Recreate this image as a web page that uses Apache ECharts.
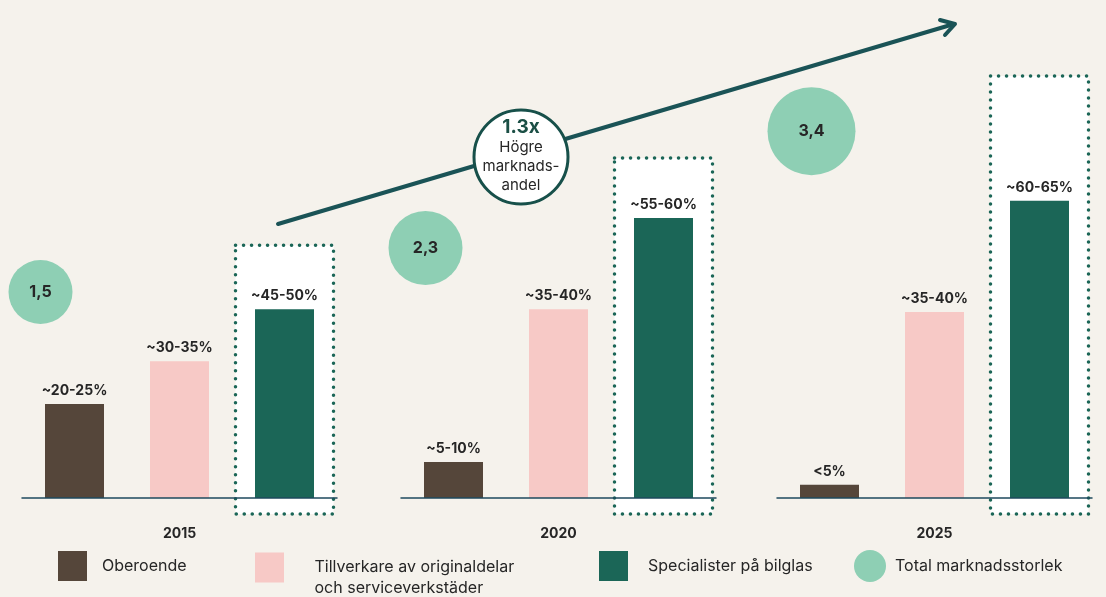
<!DOCTYPE html>
<html>
<head>
<meta charset="utf-8">
<script src="https://cdn.jsdelivr.net/npm/echarts@6/dist/echarts.min.js"></script>
<style>
  html, body { margin: 0; padding: 0; background: #f5f2ec; }
  #chart { width: 1106px; height: 597px; }
</style>
</head>
<body>
<div id="chart"></div>
<script>
// data
var years = ['2015', '2020', '2025'];
var seriesNames = ['Oberoende', 'Tillverkare av originaldelar\noch serviceverkstäder', 'Specialister på bilglas'];
var independent = [23.5, 9, 3.3];
var oem = [34.2, 47.2, 46.5];
var specialist = [47.2, 70, 74.3];
var independentLabels = ['~20-25%', '~5-10%', '<5%'];
var oemLabels = ['~30-35%', '~35-40%', '~35-40%'];
var specialistLabels = ['~45-50%', '~55-60%', '~60-65%'];
var totalSize = [1.5, 2.3, 3.4];
var totalName = 'Total marknadsstorlek';

// layout (not data)
var gridLeft = [22, 401, 777];
var boxTop = [63.2, 85, 105.5];
var circleLevel = [51.5, 62.5, 91.7];
var circleShift = [-34, -28, -18];
var circleSize = [64, 74, 88];

var colors = ['#55463a', '#f7c9c6', '#1b6657'];
var font = 'Inter, "Noto Sans", sans-serif';
var textColor = '#262626';

var myChart = echarts.init(document.getElementById('chart'));

var grids = [], xAxes = [], yAxes = [], series = [];
var groupValues = [independent, oem, specialist];
var groupLabels = [independentLabels, oemLabels, specialistLabels];

for (var i = 0; i < years.length; i++) {
  grids.push({ left: gridLeft[i], width: 315, top: 18, bottom: 99 });
  xAxes.push({
    type: 'category',
    gridIndex: i,
    data: seriesNames,
    z: 5,
    axisLine: { lineStyle: { color: '#1e4a5e', width: 1.5 } },
    axisTick: { show: false },
    axisLabel: { show: false },
    name: years[i],
    nameLocation: 'middle',
    nameGap: 29,
    nameTextStyle: { fontFamily: font, fontWeight: 'bold', fontSize: 14, color: textColor }
  });
  yAxes.push({ type: 'value', gridIndex: i, min: 0, max: 120, show: false });

  // dotted frame round the specialist bar
  series.push({
    type: 'custom',
    xAxisIndex: i,
    yAxisIndex: i,
    z: 1,
    silent: true,
    data: [[2, boxTop[i]]],
    renderItem: function (params, api) {
      var top = api.coord([api.value(0), api.value(1)]);
      var base = api.coord([api.value(0), 0]);
      return {
        type: 'rect',
        shape: { x: top[0] - 49, y: top[1], width: 98, height: base[1] - top[1] + 16 },
        style: { fill: '#ffffff', stroke: '#1b6657', lineWidth: 3.5, lineDash: [0.1, 7.9], lineCap: 'round' }
      };
    }
  });

  for (var k = 0; k < 3; k++) {
    var d = ['-', '-', '-'];
    d[k] = groupValues[k][i];
    series.push({
      type: 'bar',
      name: seriesNames[k],
      xAxisIndex: i,
      yAxisIndex: i,
      data: d,
      barWidth: 59,
      barGap: '-100%',
      z: 2,
      itemStyle: { color: colors[k] },
      label: {
        show: true,
        position: 'top',
        distance: 6,
        formatter: (function (txt) { return function () { return txt; }; })(groupLabels[k][i]),
        fontFamily: font,
        fontWeight: 'bold',
        fontSize: 14,
        color: textColor
      }
    });
  }

  series.push({
    type: 'scatter',
    name: totalName,
    xAxisIndex: i,
    yAxisIndex: i,
    z: 3,
    itemStyle: { color: '#8ecfb4', opacity: 1 },
    data: [{
      value: [0, circleLevel[i], totalSize[i]],
      symbolSize: circleSize[i],
      symbolOffset: [circleShift[i], 0]
    }],
    label: {
      show: true,
      position: 'inside',
      formatter: function (p) { return String(p.value[2]).replace('.', ','); },
      fontFamily: font,
      fontWeight: 'bold',
      fontSize: 16,
      color: textColor
    }
  });
}

var legendText = { fontFamily: font, fontSize: 16, color: textColor, lineHeight: 21 };

var option = {
  backgroundColor: '#f5f2ec',
  animation: false,
  grid: grids,
  xAxis: xAxes,
  yAxis: yAxes,
  legend: [
    { data: [seriesNames[0]], left: 58, top: 551, padding: 0, icon: 'rect', itemWidth: 29, itemHeight: 30,
      textStyle: Object.assign({ padding: [0, 0, 0, 10] }, legendText), selectedMode: false },
    { data: [seriesNames[1]], left: 255, top: 536, padding: 0, icon: 'rect', itemWidth: 29, itemHeight: 30,
      formatter: function (name) { return '\n' + name; },
      textStyle: Object.assign({ padding: [0, 0, 0, 25.5] }, legendText), selectedMode: false },
    { data: [seriesNames[2]], left: 599, top: 551, padding: 0, icon: 'rect', itemWidth: 29, itemHeight: 30,
      textStyle: Object.assign({ padding: [0, 0, 0, 15] }, legendText), selectedMode: false },
    { data: [totalName], left: 854, top: 550, padding: 0, icon: 'circle', itemWidth: 32, itemHeight: 32,
      textStyle: Object.assign({ padding: [0, 0, 0, 4] }, legendText), selectedMode: false }
  ],
  graphic: [
    {
      type: 'line', z: 10,
      shape: { x1: 278, y1: 224, x2: 954, y2: 24 },
      style: { stroke: '#1a5356', lineWidth: 4, lineCap: 'round' }
    },
    {
      type: 'polyline', z: 10,
      shape: { points: [[940, 20], [955, 24], [945, 35]] },
      style: { stroke: '#1a5356', lineWidth: 4, lineCap: 'round', lineJoin: 'round', fill: null }
    },
    {
      type: 'circle', z: 11,
      shape: { cx: 521, cy: 157, r: 47 },
      style: { fill: '#ffffff', stroke: '#17504a', lineWidth: 3 }
    },
    {
      type: 'text', z: 12, x: 521, y: 127,
      style: { text: '1.3x', fill: '#1b4f45', font: 'bold 19px ' + font, align: 'center', verticalAlign: 'middle' }
    },
    {
      type: 'text', z: 12, x: 521, y: 166,
      style: { text: 'Högre\nmarknads-\nandel', fill: textColor, font: '15px ' + font, lineHeight: 19, align: 'center', verticalAlign: 'middle' }
    }
  ],
  series: series
};

myChart.setOption(option);
</script>
</body>
</html>
